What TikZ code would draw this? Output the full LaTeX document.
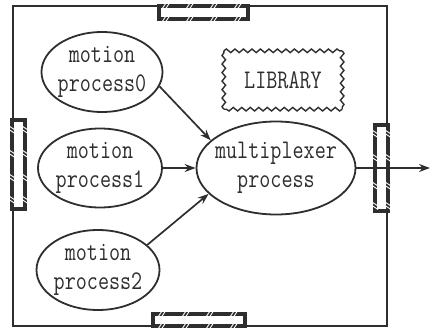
\documentclass[tikz,border=0pt]{standalone}
\usetikzlibrary{shapes.geometric,arrows.meta,decorations.pathmorphing}
\definecolor{ink}{HTML}{2E2E2E}
\newcommand\tx[1]{\scalebox{1}[1.25]{#1}}
\tikzset{
  ell/.style={ellipse, draw=ink, line width=1.8pt, inner sep=0pt},
  txt/.style={font=\fontsize{21.5}{29}\ttfamily, align=center, text=ink, inner sep=0pt},
  arr/.style={-{Stealth[length=11pt,width=8pt]}, line width=1.7pt, draw=ink},
  portbar/.style={draw=ink, line width=4.5pt, fill=white},
  hatch/.style={white, line width=0.9pt},
  frameline/.style={draw=ink, line width=2pt},
  wavy/.style={draw=ink, line width=1.4pt, decorate, decoration={snake, segment length=8.5pt, amplitude=1.8pt}},
}
\begin{document}
\begin{tikzpicture}[x=1pt,y=-1pt]
\useasboundingbox (0,0) rectangle (434,332);
% frame
\draw[frameline] (13,6) rectangle (387,326);
% ports
\draw[portbar] (159,6) rectangle (248,19);
\foreach \x in {164,188,212,236}{
  \foreach \d in {0,3.5}{
    \draw[hatch] (\x+\d-2,9) -- (\x+\d+2,3);
    \draw[hatch] (\x+\d-2,22) -- (\x+\d+2,16);
  }}
\draw[portbar] (153,314) rectangle (245,326);
\foreach \x in {160,184,208,232}{
  \foreach \d in {0,3.5}{
    \draw[hatch] (\x+\d-2,317) -- (\x+\d+2,311);
    \draw[hatch] (\x+\d-2,329) -- (\x+\d+2,323);
  }}
\draw[portbar] (12,120) rectangle (25,209);
\foreach \y in {128,152,176,198}{
  \foreach \d in {0,3.5}{
    \draw[hatch] (9,\y+\d-2) -- (15,\y+\d+2);
    \draw[hatch] (22,\y+\d-2) -- (28,\y+\d+2);
  }}
\draw[portbar] (375,125) rectangle (388,211);
\foreach \y in {132,156,184,204}{
  \foreach \d in {0,3.5}{
    \draw[hatch] (372,\y+\d-2) -- (378,\y+\d+2);
    \draw[hatch] (385,\y+\d-2) -- (391,\y+\d+2);
  }}
% processes
\node[ell, minimum width=121pt, minimum height=80pt] (p0) at (102,72) {};
\node[txt] (t0) at (p0) {\tx{motion}\\\tx{process0}};
\node[ell, minimum width=124pt, minimum height=79pt] (p1) at (100,168) {};
\node[txt] (t1) at (p1) {\tx{motion}\\\tx{process1}};
\node[ell, minimum width=123pt, minimum height=80pt] (p2) at (98,270) {};
\node[txt] (t2) at (p2) {\tx{motion}\\\tx{process2}};
\node[ell, minimum width=159pt, minimum height=93pt] (m) at (276,168) {};
\node[txt] (tm) at (m) {\tx{multiplexer}\\\tx{process}};
% library
\node[minimum width=118pt, minimum height=58pt, txt] (lib) at (283,80) {\tx{LIBRARY}};
\draw[wavy] (lib.north west) -- (lib.north east);
\draw[wavy] (lib.north east) -- (lib.south east);
\draw[wavy] (lib.south east) -- (lib.south west);
\draw[wavy] (lib.south west) -- (lib.north west);
% arrows
\coordinate (out) at (430,168);
\draw[arr] (p0.-14) -- (m.157);
\draw[arr] (p1.east) -- (m.west);
\draw[arr] (p2.27) -- (m.-159);
\draw[arr] (m.east) -- (out);
\end{tikzpicture}
\end{document}
